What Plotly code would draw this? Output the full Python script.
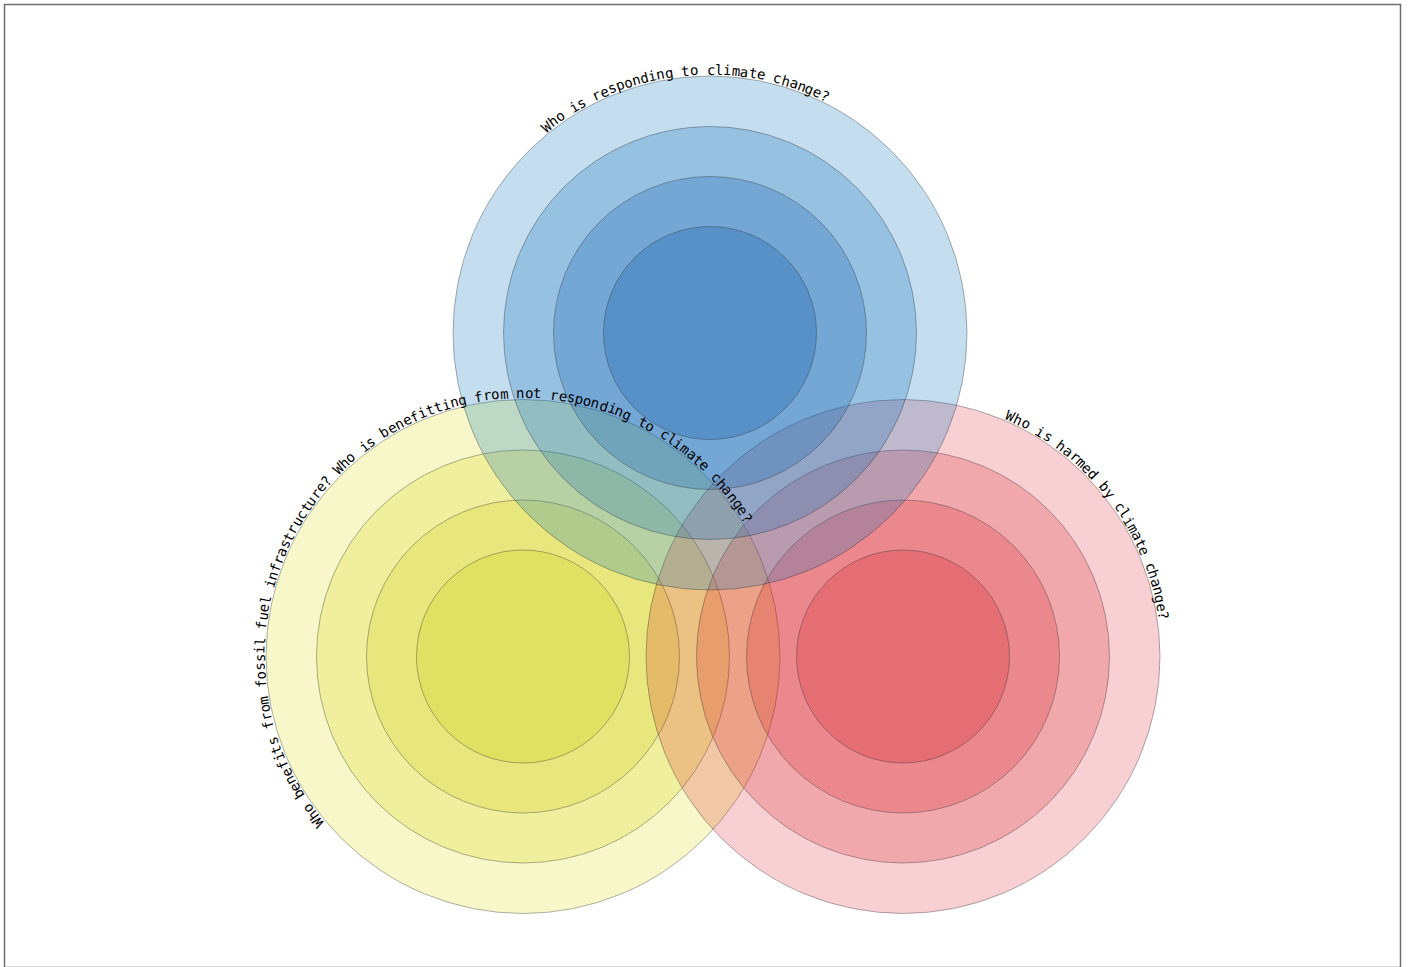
import math
import plotly.graph_objects as go

# ---- data ----
group_labels = [
    "Who benefits from fossil fuel infrastructure? Who is benefitting from not responding to climate change?",
    "Who is harmed by climate change?",
    "Who is responding to climate change?",
]
center_x = [523, 903, 710]
center_y = [656.5, 656.5, 333]
ring_radii = [257, 206.5, 156.5, 106.5]
group_base_rgb = [(247, 247, 201), (248, 207, 210), (196, 222, 240)]
label_start_deg = [-129.0, 24.1, -38.4]

# ---- style ----
W, H = 1416, 967
CHAR_STEP = 1.835
TEXT_R = 263.5


def ring_fills(base, n):
    """Over-composited fills that reproduce a multiply-style stacking of `base`."""
    f = [c / 255.0 for c in base]
    a = 1.0 - min(f) + 0.005
    fills = []
    prev = [255.0, 255.0, 255.0]
    for _ in range(n):
        tgt = [p * fc for p, fc in zip(prev, f)]
        k = [max(0.0, min(255.0, (t - (1 - a) * p) / a)) for t, p in zip(tgt, prev)]
        fills.append("rgba(%d,%d,%d,%.3f)" % (round(k[0]), round(k[1]), round(k[2]), a))
        prev = [(1 - a) * p + a * kk for p, kk in zip(prev, k)]
    return fills


fig = go.Figure()
shapes = []
for cx, cy, base in zip(center_x, center_y, group_base_rgb):
    fills = ring_fills(base, len(ring_radii))
    for r, fc in zip(ring_radii, fills):
        shapes.append(dict(type="circle", xref="x", yref="y",
                           x0=cx - r, x1=cx + r, y0=cy - r, y1=cy + r,
                           fillcolor=fc,
                           line=dict(color="rgba(40,40,40,0.45)", width=0.8)))

annotations = []
for label, cx, cy, a0 in zip(group_labels, center_x, center_y, label_start_deg):
    for i, ch in enumerate(label):
        if ch == " ":
            continue
        th = a0 + i * CHAR_STEP
        t = math.radians(th)
        annotations.append(dict(
            x=cx + TEXT_R * math.sin(t), y=cy - TEXT_R * math.cos(t),
            xref="x", yref="y", text=ch, showarrow=False,
            textangle=th, xanchor="center", yanchor="middle",
            font=dict(family="DejaVu Sans Mono", size=14, color="black")))

# frame
shapes.append(dict(type="rect", xref="x", yref="y", x0=4.5, x1=1400.5, y0=4.5, y1=967.5,
                   line=dict(color="rgb(110,110,110)", width=1.5), fillcolor="rgba(0,0,0,0)"))

# invisible trace to set up axes
fig.add_trace(go.Scatter(x=[0, W], y=[0, H], mode="markers",
                         marker=dict(opacity=0), hoverinfo="skip", showlegend=False))

fig.update_layout(
    width=W, height=H,
    margin=dict(l=0, r=0, t=0, b=0),
    paper_bgcolor="white", plot_bgcolor="white",
    xaxis=dict(range=[0, W], visible=False, fixedrange=True),
    yaxis=dict(range=[H, 0], visible=False, fixedrange=True),
    shapes=shapes, annotations=annotations,
    showlegend=False,
)

post = ("var s=document.createElement('style');"
        "s.textContent='body{margin:0;overflow:hidden}';"
        "document.head.appendChild(s);")
fig.write_html("out.html", post_script=post, config={"displayModeBar": False})
